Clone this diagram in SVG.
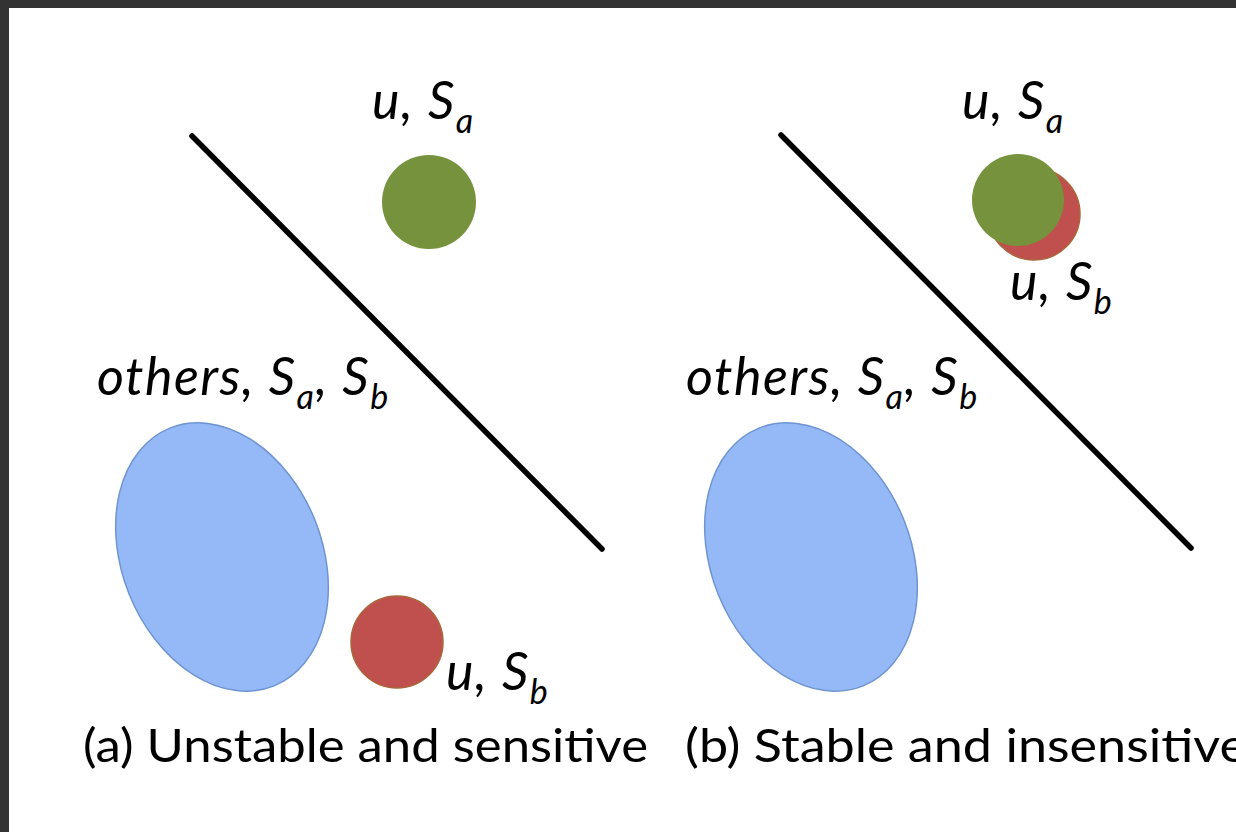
<svg xmlns="http://www.w3.org/2000/svg" width="1236" height="832" viewBox="0 0 1236 832">
<style>
.lbl{font-family:Lato,"Open Sans",sans-serif;font-style:italic;font-size:52px;letter-spacing:1.5px;fill:#000}
.sub{font-size:34px}
.cap{font-family:Lato,"Open Sans",sans-serif;font-size:46px;fill:#000}
.green{fill:#76923c}
.red{fill:#c0504d;stroke:#a8663a;stroke-width:1.5}
.blue{fill:#95b9f7;stroke:#6f95d0;stroke-width:1.5}
.sep{stroke:#000;stroke-width:5.5;stroke-linecap:round}
</style>
<rect x="0" y="0" width="1236" height="832" fill="#333333"/>
<rect x="9" y="8" width="1227" height="824" fill="#ffffff"/>
<g id="connectors">
<line class="sep" x1="192" y1="136" x2="602" y2="549"/>
<line class="sep" x1="781" y1="135" x2="1191" y2="548"/>
</g>
<g id="panel-a">
<g id="a-green"><circle class="green" cx="429" cy="202" r="47"/></g>
<g id="a-red"><circle class="red" cx="397" cy="642" r="46"/></g>
<g id="a-blue"><ellipse class="blue" cx="222" cy="557" rx="100" ry="139" transform="rotate(-22 222 557)"/></g>
<g id="a-label-usa"><text class="lbl" x="372" y="119">u, S<tspan class="sub" dy="14">a</tspan></text></g>
<g id="a-label-others"><text class="lbl" x="97" y="395">others, S<tspan class="sub" dy="14">a</tspan><tspan dy="-14">, S</tspan><tspan class="sub" dy="14">b</tspan></text></g>
<g id="a-label-usb"><text class="lbl" x="446" y="690">u, S<tspan class="sub" dy="14">b</tspan></text></g>
<g id="a-caption"><text class="cap" x="83" y="762" textLength="565" lengthAdjust="spacingAndGlyphs">(a) Unstable and sensitive</text></g>
</g>
<g id="panel-b">
<g id="b-red"><circle class="red" cx="1034" cy="214" r="46"/></g>
<g id="b-green"><circle class="green" cx="1018" cy="200" r="46"/></g>
<g id="b-blue"><ellipse class="blue" cx="811" cy="557" rx="100" ry="139" transform="rotate(-22 811 557)"/></g>
<g id="b-label-usa"><text class="lbl" x="962" y="119">u, S<tspan class="sub" dy="14">a</tspan></text></g>
<g id="b-label-usb"><text class="lbl" x="1010" y="300">u, S<tspan class="sub" dy="14">b</tspan></text></g>
<g id="b-label-others"><text class="lbl" x="686" y="395">others, S<tspan class="sub" dy="14">a</tspan><tspan dy="-14">, S</tspan><tspan class="sub" dy="14">b</tspan></text></g>
<g id="b-caption"><text class="cap" x="685" y="762" textLength="562" lengthAdjust="spacingAndGlyphs">(b) Stable and insensitive</text></g>
</g>
</svg>
